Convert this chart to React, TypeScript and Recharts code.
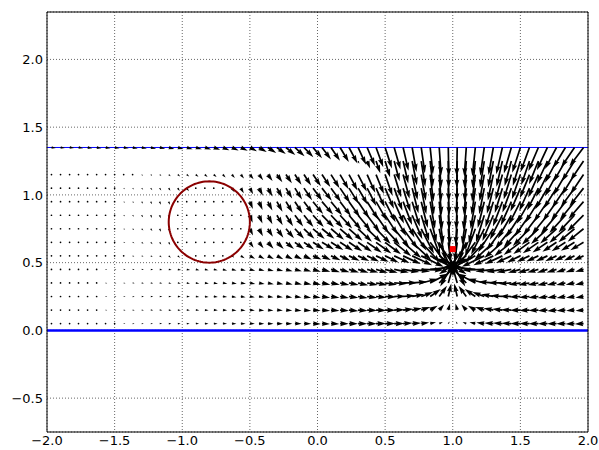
import { ScatterChart, Scatter, XAxis, YAxis, CartesianGrid, ReferenceLine } from "recharts"

// quiver grid: column x positions and row y positions
const colX = [
  -1.967, -1.9, -1.833, -1.767, -1.7, -1.633, -1.567, -1.5, -1.433, -1.367,
  -1.3, -1.233, -1.167, -1.1, -1.033, -0.967, -0.9, -0.833, -0.767, -0.7,
  -0.633, -0.567, -0.5, -0.433, -0.367, -0.3, -0.233, -0.167, -0.1, -0.033,
  0.033, 0.1, 0.167, 0.233, 0.3, 0.367, 0.433, 0.5, 0.567, 0.633,
  0.7, 0.767, 0.833, 0.9, 0.967, 1.033, 1.1, 1.167, 1.233, 1.3,
  1.367, 1.433, 1.5, 1.567, 1.633, 1.7, 1.767, 1.833, 1.9, 1.967,
]
const rowY = [0.05, 0.15, 0.25, 0.35, 0.45, 0.55, 0.65, 0.75, 0.85, 0.95, 1.05, 1.15, 1.25, 1.35]

// arrow direction in degrees (counter-clockwise from +x) and arrow length, one pair per row
const ang005 = [
  -1, -1, -1, -1, -1, -1, -1, -1, -1, -1, -1, -1, -1, -1, -1,
  -1, -1, -1, -1, -1, -1, -1, -1,
  -2, -2, -2, -2, -2, -2, -2,
  -2, -2, -1, -1, -1, -1, 0,
  0, 1, 3, 4, 8, 13, 25, 56,
  124, 155, 167, 172, 176, 177, 178, 180, 180, -179, -179, -179, -179, -178, -178,
]
const len005 = [
  1.1, 1.1, 1.2, 1.2, 1.3, 1.3, 1.4, 1.5,
  1.7, 1.9, 2.1, 2.3, 2.5, 2.6, 2.8,
  3, 3.3, 3.6, 3.9, 4.2, 4.5, 4.8, 5,
  5.3, 5.6, 6, 6.3, 6.7, 7.2, 7.7,
  8, 8.3, 8.6, 8.9, 9.2, 9.5, 9.8, 10,
  10, 9.5, 9, 8, 6, 4, 2.5,
  2.5, 4, 6, 8, 9, 9.5, 10, 10, 10, 9.8, 9.6, 9.4, 9.2, 9, 8.8,
]

const ang015 = [
  -3, -3, -3, -3, -3, -3, -3, -3, -3, -4, -4, -4, -4, -4, -4,
  -4, -4, -4, -4, -4, -5, -5, -5,
  -5, -5, -5, -5, -5, -5, -5,
  -5, -5, -5, -5, -4, -3, -2,
  -1, 2, 6, 11, 19, 31, 49, 75,
  105, 131, 149, 161, 169, 174, 178, -179, -178, -177, -176, -175, -175, -175, -175,
]
const len015 = [
  1.2, 1.3, 1.3, 1.4, 1.5, 1.6, 1.7, 1.8,
  1.9, 2.1, 2.3, 2.5, 2.7, 2.8, 3,
  3.2, 3.5, 3.8, 4.1, 4.4, 4.6, 4.8, 5,
  5.3, 5.6, 6, 6.3, 6.7, 7.2, 7.7,
  8.1, 8.5, 8.9, 9.3, 9.6, 9.9, 10.2, 10.4,
  10.5, 10.3, 10, 9.5, 8.6, 7.5, 6.7,
  6.7, 7.5, 8.6, 9.5, 10, 10.3, 10.5, 10.4, 10.2, 9.9, 9.6, 9.3, 8.9, 8.5, 8.1,
]

const ang025 = [
  -5, -5, -5, -5, -5, -5, -5, -5, -6, -6, -6, -6, -6, -6, -6,
  -6, -7, -7, -7, -7, -8, -8, -8,
  -8, -8, -8, -9, -9, -9, -9,
  -9, -9, -9, -8, -8, -7, -5,
  -3, 1, 5, 11, 21, 35, 54, 77,
  103, 126, 145, 159, 169, 175, 179, -177, -175, -173, -172, -172, -171, -171, -171,
]
const len025 = [
  1.2, 1.3, 1.3, 1.4, 1.5, 1.6, 1.7, 1.8,
  1.9, 2.1, 2.3, 2.5, 2.7, 2.8, 3,
  3.2, 3.5, 3.8, 4.1, 4.4, 4.6, 4.8, 5,
  5.3, 5.6, 6, 6.3, 6.7, 7.2, 7.7,
  8.2, 8.6, 9, 9.4, 9.8, 10.2, 10.6, 11,
  11.5, 12, 12.4, 12.7, 13, 13.2, 13.3,
  13.3, 13.2, 13, 12.7, 12.4, 12, 11.5, 11, 10.6, 10.2, 9.8, 9.4, 9, 8.6, 8.2,
]

const ang035 = [
  -6, -6, -7, -7, -7, -7, -7, -7, -8, -8, -8, -8, -8, -9, -9,
  -9, -9, -9, -10, -10, -10, -10, -11,
  -11, -11, -11, -12, -12, -12, -12,
  -12, -12, -12, -12, -12, -11, -10,
  -8, -3, 1, 5, 14, 28, 47, 74,
  106, 133, 152, 166, 175, 179, -177, -172, -170, -169, -168, -168, -168, -168, -168,
]
const len035 = [
  1.2, 1.3, 1.3, 1.4, 1.5, 1.6, 1.7, 1.8,
  1.9, 2.1, 2.3, 2.5, 2.7, 2.8, 3,
  3.3, 3.6, 4, 4.3, 4.6, 5, 5.2, 5.5,
  5.8, 6.1, 6.5, 6.8, 7.2, 7.6, 8.1,
  8.6, 9, 9.5, 10, 10.5, 11, 11.5, 12,
  13, 14, 15, 17, 20, 23, 25,
  25, 23, 20, 17, 15, 14, 13, 12, 11.5, 11, 10.5, 10, 9.5, 9, 8.6,
]

const ang045 = [
  -8, -8, -8, -9, -9, -9, -9, -10, -10, -10, -10, -10, -11, -11, -11,
  -11, -12, -12, -12, -13, -13, -13, -14,
  -14, -14, -15, -15, -15, -16, -16,
  -16, -17, -17, -17, -17, -16, -16,
  -15, -12, -9, -7, -2, 6, 20, 54,
  126, 160, 174, -178, -173, -171, -168, -165, -164, -164, -163, -163, -163, -163, -164,
]
const len045 = [
  1.2, 1.3, 1.3, 1.4, 1.5, 1.6, 1.7, 1.8,
  1.9, 2.1, 2.3, 2.5, 2.7, 3, 3.3,
  3.5, 3.7, 3.9, 4.1, 4.4, 4.8, 5.1, 5.5,
  5.8, 6.1, 6.5, 6.8, 7.2, 7.6, 8.1,
  8.7, 9.3, 9.9, 10.4, 11, 11.6, 12.3, 13,
  15, 16.5, 18, 22, 28, 32, 35,
  35, 32, 28, 22, 18, 16.5, 15, 13, 12.3, 11.6, 11, 10.4, 9.9, 9.3, 8.7,
]

const ang055 = [
  -13, -13, -13, -14, -14, -14, -15, -15, -16, -18, -22, -28, -35, -40, -40,
  -40, -20, -20, -20, -20, -35, -32, -30,
  -29, -28, -27, -26, -25, -25, -24,
  -25, -25, -25, -25, -25, -25, -25,
  -26, -25, -25, -25, -26, -28, -34, -61,
  -119, -146, -152, -154, -155, -155, -155, -154, -155, -155, -155, -155, -156, -156, -157,
]
const len055 = [
  1, 1, 1.1, 1.1, 1.2, 1.3, 1.4, 1.5,
  1.6, 1.8, 2, 2.2, 2.5, 2.8, 3,
  2.5, 0.5, 0.5, 0.5, 0.5, 3, 4.5, 6,
  6.4, 6.8, 7.2, 7.6, 8, 8.6, 9.2,
  9.8, 10.5, 11.2, 11.8, 12.4, 13.2, 14, 15,
  17, 19.5, 22, 25, 30, 33, 35,
  35, 33, 30, 25, 22, 19.5, 17, 15, 14, 13.5, 13, 12.5, 12, 11.5, 11,
]

const ang065 = [
  -17, -17, -18, -18, -18, -19, -19, -20, -22, -25,
  -35, -45, -55, -60,
  -30, -30, -30, -30, -30, -30, -30, -30,
  -55, -52, -48, -44, -40, -37, -35, -33,
  -31, -32, -33, -34, -34, -35, -36,
  -37, -39, -41, -43, -47, -53, -66, -83,
  -97, -114, -127, -133, -137, -139, -141, -143, -144, -145, -146, -146, -147, -148, -149,
]
const len065 = [
  1, 1, 1.1, 1.1, 1.2, 1.3, 1.4, 1.5, 1.7, 2,
  2.3, 2.6, 2.8, 3,
  0.5, 0.5, 0.5, 0.5, 0.5, 0.5, 0.5, 0.5,
  6.5, 7.5, 8.5, 9.5, 10.5, 11.5, 12.3, 13,
  14, 14.6, 15.4, 16, 16.8, 18, 19, 20,
  22, 24, 26, 28, 30, 32, 34,
  34, 32, 30, 28, 26, 24, 22, 21, 20, 19, 18, 17, 16.5, 16, 15.5,
]

const ang075 = [
  -22, -22, -23, -23, -24, -25, -26, -27, -30, -35,
  -45, -55, -65, -70,
  -40, -40, -40, -40, -40, -40, -40, -40,
  -65, -62, -58, -54, -50, -47, -44, -41,
  -39, -40, -41, -42, -43, -44, -46,
  -48, -51, -54, -57, -63, -70, -79, -86,
  -94, -101, -110, -117, -123, -126, -129, -132, -134, -136, -137, -138, -139, -140, -141,
]
const len075 = [
  1, 1, 1.1, 1.1, 1.2, 1.3, 1.4, 1.5, 1.7, 2,
  2.4, 2.8, 3.2, 3.4,
  0.5, 0.5, 0.5, 0.5, 0.5, 0.5, 0.5, 0.5,
  7.5, 8.5, 9.5, 11, 12.5, 13.5, 14.5, 15.5,
  16, 17, 17.5, 18, 19, 20, 21, 22,
  24, 25, 26, 28, 30, 32, 33,
  33, 32, 30, 29, 28, 27, 26, 25, 24, 23, 22.5, 22, 21.5, 21, 20.5,
]

const ang085 = [
  -26, -26, -27, -27, -28, -29, -30, -32, -36, -42,
  -55, -65, -72, -75,
  -50, -50, -50, -50, -50, -50, -50, -50,
  -70, -67, -63, -60, -57, -54, -51, -48,
  -45, -47, -48, -50, -51, -53, -55,
  -57, -60, -63, -67, -73, -77, -82, -87,
  -93, -98, -103, -107, -113, -117, -120, -123, -125, -127, -129, -130, -132, -133, -135,
]
const len085 = [
  1, 1, 1.1, 1.1, 1.2, 1.3, 1.4, 1.5, 1.7, 2,
  2.5, 3, 3.3, 3.5,
  0.5, 0.5, 0.5, 0.5, 0.5, 0.5, 0.5, 0.5,
  8, 9, 10, 11.5, 13, 14, 15, 16,
  17, 17.5, 18, 19, 20, 21, 22, 23,
  24, 25, 26, 27, 28, 29, 30,
  30, 29.5, 29, 28.5, 28, 27.5, 27, 26.5, 26, 25.5, 25, 24.5, 24, 23.5, 23,
]

const ang095 = [
  -29, -29, -30, -30, -31, -32, -33, -35, -38, -44,
  -55, -62, -68, -70,
  -50, -50, -50, -50, -50, -50, -50, -50,
  -68, -66, -63, -61, -59, -57, -54, -51,
  -49, -51, -53, -55, -56, -58, -60,
  -63, -66, -69, -73, -76, -80, -84, -88,
  -92, -96, -100, -104, -107, -111, -114, -117, -120, -122, -124, -125, -127, -129, -131,
]
const len095 = [
  1, 1, 1.1, 1.1, 1.2, 1.3, 1.4, 1.5, 1.7, 2,
  2.5, 2.8, 3.2, 3.4,
  0.5, 0.5, 0.5, 0.5, 0.5, 0.5, 0.5, 0.5,
  8, 9, 10, 11.5, 13, 14, 15, 16,
  17, 17.5, 18, 19, 20, 21, 22, 23,
  24, 25, 26, 27, 27.5, 28, 28,
  28, 28, 27.5, 27, 27, 26.5, 26, 26, 25.5, 25, 24.5, 24, 24, 23.5, 23,
]

const ang105 = [
  -30, -31, -31, -32, -33, -34, -35, -37, -40, -43,
  -48, -52, -56, -58, -58, -55,
  -45, -45, -45, -45,
  -58, -60, -62, -62, -61, -60, -59, -58, -56, -54,
  -52, -54, -56, -58, -60, -63, -66,
  -67, -70, -73, -76, -79, -82, -85, -88,
  -92, -95, -98, -101, -104, -107, -110, -113, -114, -117, -120, -122, -124, -126, -128,
]
const len105 = [
  1, 1, 1.1, 1.1, 1.2, 1.3, 1.4, 1.5, 1.7, 2,
  2.3, 2.6, 2.9, 3.2, 3.5, 3.8,
  0.5, 0.5, 0.5, 0.5,
  5, 6, 7, 8.5, 9.5, 11, 12, 13.5, 14.5, 15.5,
  16, 17, 18, 18.5, 19, 20, 21, 22.5,
  24, 25, 26, 26.5, 27, 27, 27,
  27, 27, 27, 26.5, 26.5, 26, 26, 25.5, 25, 25, 24.5, 24, 24, 23.5, 23,
]

const ang115 = [
  -32, -33, -33, -34, -35, -36, -37, -38, -39, -40,
  -40, -40, -40, -40,
  -38, -38, -38, -40, -42, -45, -48, -50,
  -52, -53, -54, -55, -56, -57, -57, -56,
  -56, -58, -60, -62, -63, -66, -68,
  -71, -73, -75, -78, -80, -83, -86, -89,
  -91, -94, -97, -100, -102, -105, -107, -109, -112, -114, -117, -118, -120, -122, -124,
]
const len115 = [
  0.8, 0.8, 0.9, 0.9, 1, 1, 1.1, 1.2, 1.3, 1.5,
  1.8, 2, 2.3, 2.6,
  3, 3.2, 3.4, 3.6, 3.8, 4, 4.5, 5,
  6, 7, 8, 9.5, 10.5, 12, 13, 14,
  15, 16, 17, 18, 19, 20, 21, 22.5,
  24, 25, 26, 26.5, 27, 27, 27,
  27, 27, 27, 27, 26.5, 26.5, 26, 26, 25.5, 25, 25, 24.5, 24, 24, 23.5,
]

const ang125 = [
  -35, -35, -35, -35, -35, -35, -35, -35, -35, -35,
  -35, -35, -35, -35, -35, -35, -35, -35, -35, -35,
  -45, -45, -45, -45, -45, -45, -45, -45, -45, -45,
  -55, -55, -55, -55,
  -65, -68, -71, -73, -75, -77, -79, -81, -84, -86, -89,
  -91, -94, -96, -99, -101, -103, -105, -107, -109, -112, -115, -118, -120, -122, -124,
]
const len125 = [
  0, 0, 0, 0, 0, 0, 0, 0, 0, 0,
  0, 0, 0, 0, 0, 0, 0, 0, 0, 0,
  0, 0, 0, 0, 0, 0, 0, 0, 0, 0,
  0, 0, 0, 0,
  3, 8, 13, 17, 21, 23, 25, 26, 26, 27, 27,
  27, 27, 27, 27, 27, 26.5, 26, 26, 25.5, 25, 25, 24.5, 24, 24, 23.5,
]

const ang135 = [
  -8, -8, -8, -9, -9, -9, -10, -10, -10, -11, -12, -13, -13, -14, -15,
  -16, -17, -18, -20, -22, -24, -26, -28,
  -30, -33, -36, -39, -42, -46, -50,
  -53, -56, -59, -62, -65, -67, -70,
  -72, -74, -77, -80, -82, -84, -86, -89,
  -91, -94, -96, -98, -100, -103, -106, -108, -110, -113, -115, -118, -121, -124, -127,
]
const len135 = [
  4.5, 4.5, 4.6, 4.6, 4.7, 4.8, 4.9, 5, 5.1, 5.2, 5.3, 5.5, 5.6, 5.8, 6,
  6.2, 6.4, 6.6, 6.8, 7.1, 7.4, 7.7, 8,
  9, 10, 11, 12, 13, 13.5, 14,
  15, 16, 17, 18, 19, 20, 21,
  22, 23, 24, 25, 26, 27, 28, 29,
  29, 29, 29, 28.5, 28, 27.5, 27, 26.5, 26, 25.5, 25, 24.5, 24, 24, 23.5,
]

const angleRows = [ang005, ang015, ang025, ang035, ang045, ang055, ang065, ang075, ang085, ang095, ang105, ang115, ang125, ang135]
const lengthRows = [len005, len015, len025, len035, len045, len055, len065, len075, len085, len095, len105, len115, len125, len135]

// circle outline, the sink marker, the two boundary lines
const circleCenter = { x: -0.8, y: 0.8 }
const circleRadius = 0.3
const marker = [{ x: 1.0, y: 0.6 }]
const wallY = 0
const topY = 1.35

const xTicks = [-2, -1.5, -1, -0.5, 0, 0.5, 1, 1.5, 2]
const yTicks = [-0.5, 0, 0.5, 1, 1.5, 2]

const arrows = rowY.flatMap((y, j) =>
  colX.map((x, k) => ({ x, y, ang: angleRows[j][k], len: lengthRows[j][k] }))
)

const circlePts = Array.from({ length: 121 }, (_, i) => {
  const a = (i / 120) * 2 * Math.PI
  return { x: circleCenter.x + circleRadius * Math.cos(a), y: circleCenter.y + circleRadius * Math.sin(a) }
})

// matplotlib-like quiver arrow, sizes in px
const SHAFT = 1.7
const HEAD_W = 1.5 * SHAFT
const HEAD_L = 5 * SHAFT
const HEAD_AXIS = 4.5 * SHAFT

function Arrow(props: any) {
  const { cx, cy, payload } = props
  const len = payload?.len
  if (!len || cx == null || cy == null) return <g />
  if (len < SHAFT) return <circle cx={cx} cy={cy} r={SHAFT / 2} fill="#000" />
  const t = (payload.ang * Math.PI) / 180
  const c = Math.cos(t)
  const s = Math.sin(t)
  const base = Math.max(len, HEAD_L)
  const k = Math.min(1, len / HEAD_L)
  const pts = [
    [0, -SHAFT / 2],
    [base - HEAD_AXIS, -SHAFT / 2],
    [base - HEAD_L, -HEAD_W],
    [base, 0],
    [base - HEAD_L, HEAD_W],
    [base - HEAD_AXIS, SHAFT / 2],
    [0, SHAFT / 2],
  ]
  const str = pts
    .map(([a, b]) => `${(cx + k * (a * c + b * s)).toFixed(2)},${(cy + k * (-a * s + b * c)).toFixed(2)}`)
    .join(" ")
  return <polygon points={str} fill="#000" />
}

function Marker(props: any) {
  const { cx, cy } = props
  if (cx == null || cy == null) return <g />
  return <rect x={cx - 3} y={cy - 3} width={6} height={6} fill="#ff0000" />
}

const fmt = (v: number) => v.toFixed(1).replace("-", "\u2212")
const tickStyle = { fill: "#000", fontSize: 13, fontFamily: "DejaVu Sans" }

export default function App() {
  return (
    <div style={{ position: "absolute", left: 0, top: 0, background: "#fff" }}>
      <ScatterChart width={599} height={450} margin={{ top: 12, right: 11, bottom: 0, left: 0 }}>
        <CartesianGrid stroke="#000" strokeWidth={0.6} strokeDasharray="1 2" />
        <XAxis
          type="number"
          dataKey="x"
          domain={[-2, 2]}
          ticks={xTicks}
          allowDataOverflow
          interval={0}
          height={18}
          tickLine={false}
          tickSize={0}
          tickMargin={4}
          axisLine={{ stroke: "#000" }}
          tick={tickStyle}
          tickFormatter={fmt}
        />
        <YAxis
          type="number"
          dataKey="y"
          domain={[-0.75, 2.35]}
          ticks={yTicks}
          allowDataOverflow
          interval={0}
          width={47}
          tickLine={false}
          tickSize={0}
          tickMargin={4}
          axisLine={{ stroke: "#000" }}
          tick={tickStyle}
          tickFormatter={fmt}
        />
        <Scatter data={arrows} shape={Arrow} isAnimationActive={false} />
        <Scatter
          data={circlePts}
          fill="#8b0000"
          line={{ stroke: "#8b0000", strokeWidth: 2 }}
          shape={() => <g />}
          isAnimationActive={false}
        />
        <ReferenceLine y={wallY} stroke="#0000ff" strokeWidth={2.5} />
        <ReferenceLine y={topY} stroke="#0000ff" strokeWidth={1} />
        <ReferenceLine y={2.35} stroke="#000" />
        <ReferenceLine x={2} stroke="#000" />
        <Scatter data={marker} shape={Marker} isAnimationActive={false} />
      </ScatterChart>
    </div>
  )
}
